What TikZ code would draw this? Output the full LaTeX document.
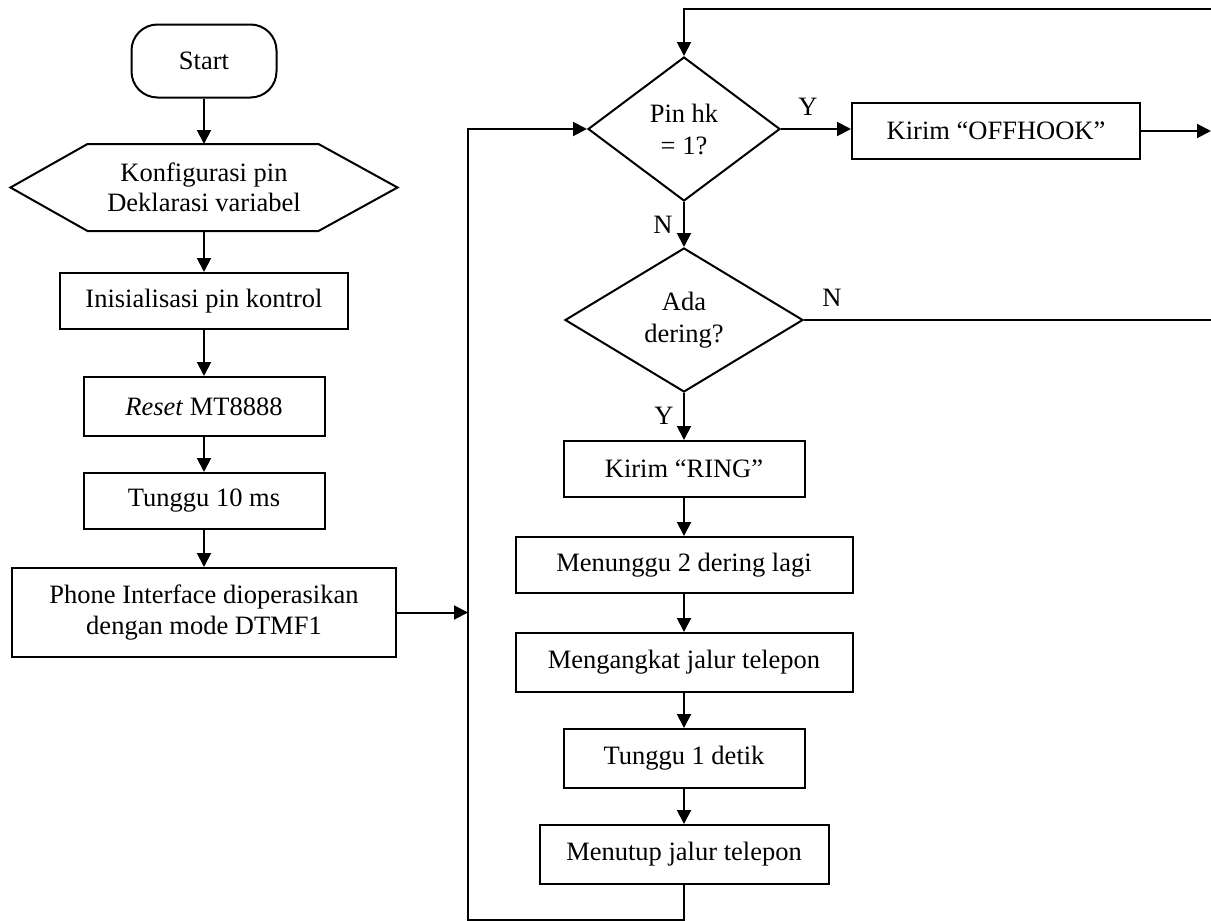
\documentclass[tikz,border=0pt]{standalone}
\usepackage{fontspec}
\setmainfont{Liberation Serif}
\usetikzlibrary{arrows.meta,shapes.geometric,calc}
\begin{document}
\begin{tikzpicture}[x=1pt,y=-1pt,
  line width=2pt,
  every node/.style={font=\fontsize{26.5}{30.5}\selectfont},
  proc/.style={draw, rectangle, align=center, inner sep=0pt},
  dec/.style={draw, diamond, align=center, inner sep=0pt, font=\fontsize{26.5}{32}\selectfont},
  arr/.style={-{Triangle[length=14pt,width=14pt]}},
  lbl/.style={inner sep=0pt}
]
\useasboundingbox (0,0) rectangle (1211,921);
% left column
\node[draw, rounded corners=26pt, minimum width=145pt, minimum height=73pt, inner sep=0pt] (start) at (204,61) {Start};
\node[align=center, minimum width=385pt, minimum height=85pt, inner sep=0pt] (hex) at (204,187.5) {Konfigurasi pin\\Deklarasi variabel};
\draw (hex.west) -- ([xshift=77pt]hex.north west) -- ([xshift=-79pt]hex.north east) -- (hex.east) -- ([xshift=-79pt]hex.south east) -- ([xshift=77pt]hex.south west) -- cycle;
\node[proc, minimum width=288pt, minimum height=56pt] (init) at (204,301) {Inisialisasi pin kontrol};
\node[proc, minimum width=241pt, minimum height=59pt] (reset) at (204,406.5) {\textit{Reset} MT8888};
\node[proc, minimum width=241pt, minimum height=56pt] (wait10) at (204,501) {Tunggu 10 ms};
\node[proc, minimum width=384pt, minimum height=89pt] (phone) at (204,612.5) {Phone Interface dioperasikan\\dengan mode DTMF1};
\draw[arr] (start) -- (hex);
\draw[arr] (hex) -- (init);
\draw[arr] (init) -- (reset);
\draw[arr] (reset) -- (wait10);
\draw[arr] (wait10) -- (phone);
% right column
\coordinate (lb) at (468,920);
\coordinate (topr) at (1211,9);
\node[dec, minimum width=192pt, minimum height=144pt] (pin) at (684,129) {Pin hk\\= 1?};
\node[proc, minimum width=288pt, minimum height=56pt] (off) at (996,131) {Kirim “OFFHOOK”};
\coordinate (offend) at (1211,129);
\node[dec, minimum width=238pt, minimum height=144pt] (ada) at (684,320) {Ada\\dering?};
\coordinate (adar) at (1211,320);
\node[proc, minimum width=241pt, minimum height=56pt] (ring) at (684,469) {Kirim “RING”};
\node[proc, minimum width=337pt, minimum height=56pt] (menunggu) at (684,565) {Menunggu 2 dering lagi};
\node[proc, minimum width=337pt, minimum height=59pt] (angkat) at (684,662.5) {Mengangkat jalur telepon};
\node[proc, minimum width=241pt, minimum height=59pt] (wait1) at (684,758.5) {Tunggu 1 detik};
\node[proc, minimum width=289pt, minimum height=59pt] (tutup) at (684,854.5) {Menutup jalur telepon};
% labels
\node[lbl] (ly1) at (808,107) {Y};
\node[lbl] (ln1) at (663,225) {N};
\node[lbl] (ln2) at (832,298) {N};
\node[lbl] (ly2) at (664,416) {Y};
% connectors
\draw[arr] (phone.east) -- (phone.east -| lb);
\draw[arr] (topr) -| (pin.north);
\draw[arr] (pin.east) -- (pin.east -| off.west);
\draw[arr] (off.east) -- (off.east -| offend);
\draw[arr] (pin.south) -- (ada.north);
\draw (ada.east) -- (adar);
\draw[arr] (ada.south) -- (ring.north);
\draw[arr] (ring) -- (menunggu);
\draw[arr] (menunggu) -- (angkat);
\draw[arr] (angkat) -- (wait1);
\draw[arr] (wait1) -- (tutup);
\draw[arr] (tutup.south) |- (lb) |- (pin.west);
\end{tikzpicture}
\end{document}
